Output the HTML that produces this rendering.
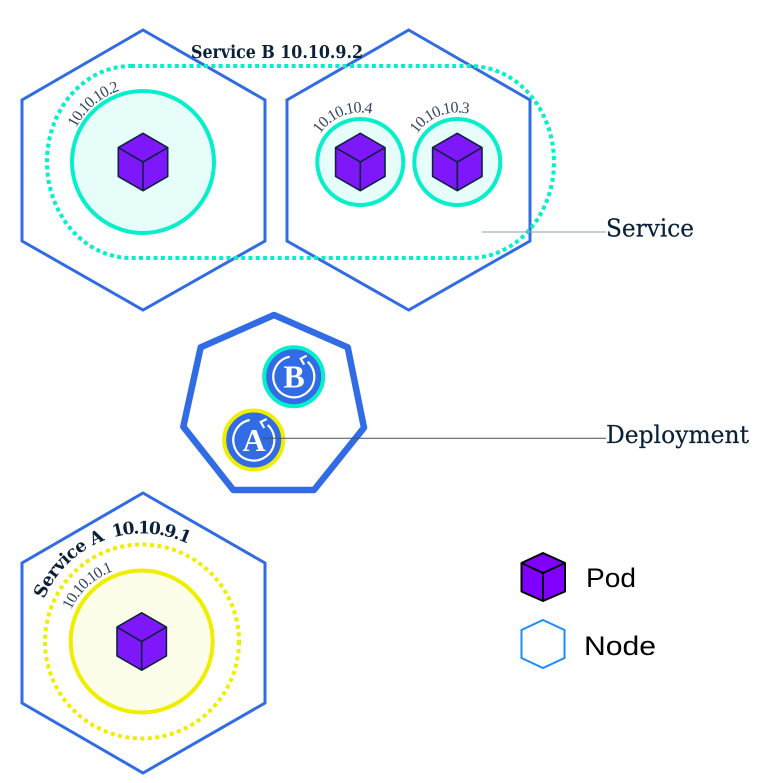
<!DOCTYPE html>
<html><head><meta charset="utf-8"><style>
html,body{margin:0;padding:0;background:#fff}
svg{display:block}
.t{font-family:"DejaVu Serif","Liberation Serif",serif;fill:#0a2038}
.ip{font-family:"Liberation Serif",serif;fill:#0d2240;font-size:16px;opacity:.85;letter-spacing:-1px}
.b{font-weight:bold}
.l{font-family:"Liberation Sans","DejaVu Sans",sans-serif;fill:#000}
</style></head><body>
<svg width="782" height="783" viewBox="0 0 782 783" xmlns="http://www.w3.org/2000/svg">
<defs>
<g id="cube" stroke="#0d2240" stroke-width="1.6" stroke-linejoin="round">
<path d="M0-28.7 24.7-14.4V14.4L0 28.7-24.7 14.4V-14.4Z" fill="#7f17fb"/>
<path d="M-24.7-14.4 0 0 24.7-14.4M0 0V28.7" fill="none"/>
</g>
<g id="dep" fill="none" stroke="#fff" stroke-width="2.2">
<path d="M-4-20A20.5 20.5 0 1 0 14-15"/>
<path d="M13-21 7-18 10.5-12"/>
</g>
<path id="p1" d="M76 128A75 75 0 0 1 143 87"/>
<path id="p4" d="M320 134A49 49 0 0 1 385 119"/>
<path id="p3" d="M417 134A49 49 0 0 1 482 119"/>
<path id="pA" d="M43 602A106 106 0 0 1 230 580"/>
<path id="pa1" d="M71 610A75 75 0 0 1 142 566.500"/>
</defs>

<g fill="none" stroke="#326ce5" stroke-width="3">
<path d="M143 30 265 100V241L143 310 22 241V100Z"/>
<path d="M408.700 30 530 100V241L408.700 310 287 241V100Z"/>
<path d="M143 493 265 563V703L143 773 22 703V563Z"/>
</g>

<rect x="47" y="66" width="507" height="192" rx="84" ry="96" fill="none" stroke="#05f0ca" stroke-width="4" stroke-dasharray="4 3.300"/>

<g fill="#e6fdfa" stroke="#05f0ca" stroke-width="4">
<circle cx="143" cy="162" r="71"/>
<circle cx="360.300" cy="162" r="43"/>
<circle cx="457.300" cy="162" r="43"/>
</g>
<use href="#cube" x="143" y="162"/>
<use href="#cube" x="360.300" y="162"/>
<use href="#cube" x="457.300" y="162"/>

<text class="t b" x="191" y="58" font-size="17.500" textLength="172" lengthAdjust="spacingAndGlyphs">Service B 10.10.9.2</text>
<text class="ip"><textPath href="#p1">10.10.10.2</textPath></text>
<text class="ip"><textPath href="#p4">10.10.10.4</textPath></text>
<text class="ip"><textPath href="#p3">10.10.10.3</textPath></text>

<path d="M482 232H606" stroke="#8c9bab" stroke-width="1"/>
<text class="t" x="606" y="236.500" font-size="24" stroke="#0a2038" stroke-width=".2" textLength="88" lengthAdjust="spacingAndGlyphs">Service</text>

<path d="M274 315 347.700 347.300 364 427.700 314 490H233.300L183.300 426.700 200.700 347.300Z" fill="#fff" stroke="#326ce5" stroke-width="6.500" stroke-linejoin="round"/>

<circle cx="293.700" cy="376.700" r="29.500" fill="#326ce5" stroke="#05f0ca" stroke-width="4"/>
<use href="#dep" x="293.700" y="376.700"/>
<text x="294" y="387.500" text-anchor="middle" font-family="Liberation Serif,serif" font-weight="bold" font-size="32" fill="#fff">B</text>
<circle cx="253.700" cy="440" r="29.500" fill="#326ce5" stroke="#f0ee00" stroke-width="4"/>
<use href="#dep" x="253.700" y="440"/>
<text x="254" y="451" text-anchor="middle" font-family="Liberation Serif,serif" font-weight="bold" font-size="32" fill="#fff">A</text>

<path d="M263 438.300H606" stroke="#3d5168" stroke-width="1"/>
<text class="t" x="606" y="443" font-size="24" stroke="#0a2038" stroke-width=".2" textLength="143" lengthAdjust="spacingAndGlyphs">Deployment</text>

<circle cx="142" cy="641.500" r="97" fill="none" stroke="#f0ee00" stroke-width="4" stroke-dasharray="4 3.500"/>
<circle cx="141.700" cy="641.500" r="71" fill="#fdfee9" stroke="#f0ee00" stroke-width="4"/>
<use href="#cube" x="141.700" y="641.500"/>
<text class="t b" font-size="17.500" letter-spacing="-0.5"><textPath href="#pA" startOffset="3">Service A</textPath></text>
<text class="t b" font-size="17" letter-spacing="-1.5"><textPath href="#pA" startOffset="99">10.10.9.1</textPath></text>
<text class="ip"><textPath href="#pa1">10.10.10.1</textPath></text>

<g stroke="#000" stroke-width="2" stroke-linejoin="round">
<path d="M543 553 565 563V591.500L543 601 521.500 591.500V563Z" fill="#7f00ff"/>
<path d="M521.500 563 543 573 565 563M543 573V601" fill="none"/>
</g>
<path d="M543 620 564.500 630V658L543 668 521.500 658V630Z" fill="#fff" stroke="#1a8cff" stroke-width="2"/>
<text class="l" x="586" y="587" font-size="27" textLength="50" lengthAdjust="spacingAndGlyphs">Pod</text>
<text class="l" x="584" y="655" font-size="27" textLength="72" lengthAdjust="spacingAndGlyphs">Node</text>
</svg>
</body></html>
